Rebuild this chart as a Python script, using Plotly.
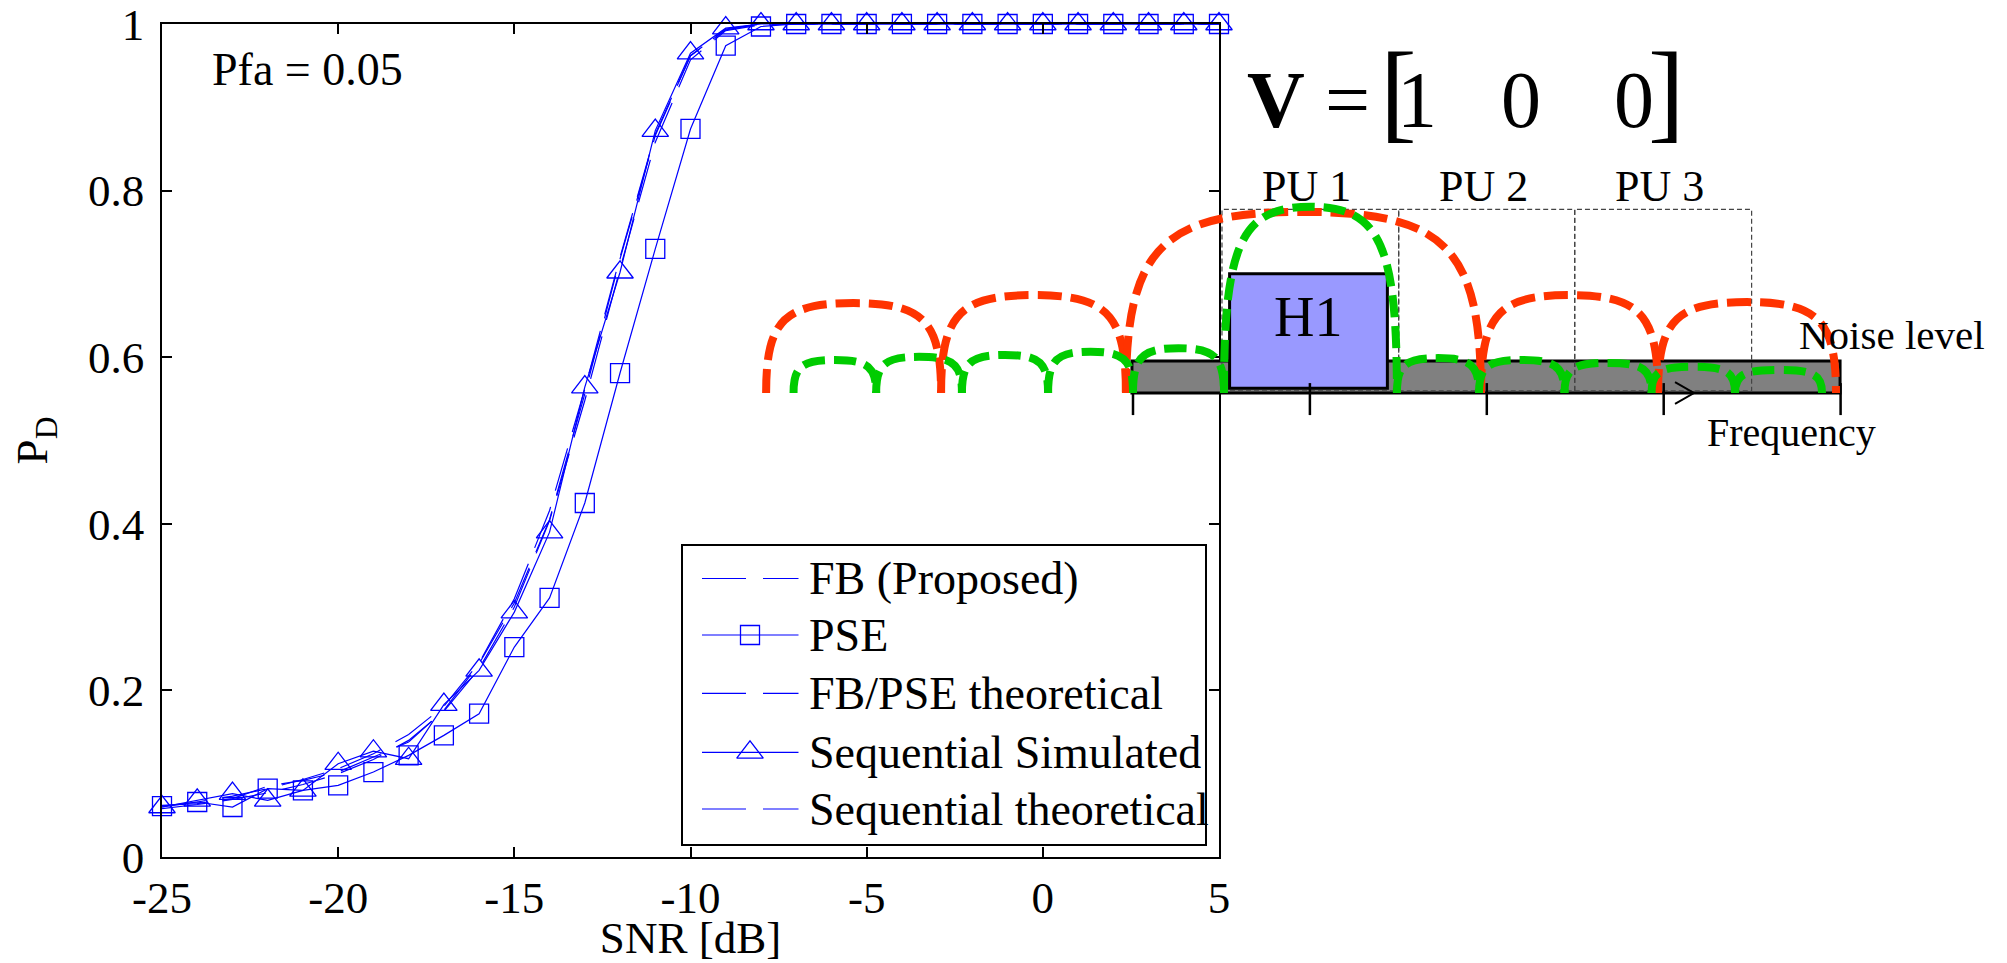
import plotly.graph_objects as go

W, H = 2007, 963
FONT = "Liberation Serif, Times New Roman, serif"

# ---------------- main chart data ----------------
snr_db = [-25, -24, -23, -22, -21, -20, -19, -18, -17, -16, -15, -14, -13, -12, -11, -10,
          -9, -8, -7, -6, -5, -4, -3, -2, -1, 0, 1, 2, 3, 4, 5]
pd_fb_proposed = [0.062, 0.064, 0.070, 0.085, 0.092, 0.102, 0.120, 0.138, 0.176, 0.232, 0.305,
                  0.405, 0.556, 0.718, 0.866, 0.962, 0.993, 1.0, 1.0, 1.0, 1.0, 1.0, 1.0, 1.0,
                  1.0, 1.0, 1.0, 1.0, 1.0, 1.0, 1.0]
pd_pse = [0.061, 0.066, 0.060, 0.082, 0.080, 0.086, 0.102, 0.122, 0.146, 0.172, 0.252,
          0.311, 0.425, 0.581, 0.730, 0.874, 0.974, 0.997, 1.0, 1.0, 1.0, 1.0, 1.0, 1.0,
          1.0, 1.0, 1.0, 1.0, 1.0, 1.0, 1.0]
pd_fbpse_theory = [0.058, 0.063, 0.069, 0.077, 0.087, 0.100, 0.117, 0.140, 0.175, 0.226, 0.300,
                   0.404, 0.548, 0.706, 0.858, 0.957, 0.992, 0.999, 1.0, 1.0, 1.0, 1.0, 1.0, 1.0,
                   1.0, 1.0, 1.0, 1.0, 1.0, 1.0, 1.0]
pd_seq_sim = [0.060, 0.068, 0.076, 0.068, 0.080, 0.112, 0.127, 0.118, 0.183, 0.224, 0.294,
              0.390, 0.564, 0.702, 0.872, 0.965, 0.995, 1.0, 1.0, 1.0, 1.0, 1.0, 1.0, 1.0,
              1.0, 1.0, 1.0, 1.0, 1.0, 1.0, 1.0]
pd_seq_theory = [0.060, 0.066, 0.073, 0.082, 0.093, 0.106, 0.124, 0.147, 0.181, 0.233, 0.310,
                 0.416, 0.562, 0.720, 0.868, 0.962, 0.994, 1.0, 1.0, 1.0, 1.0, 1.0, 1.0, 1.0,
                 1.0, 1.0, 1.0, 1.0, 1.0, 1.0, 1.0]

x_ticks = [-25, -20, -15, -10, -5, 0, 5]
x_tick_labels = ["-25", "-20", "-15", "-10", "-5", "0", "5"]
y_ticks = [0, 0.2, 0.4, 0.6, 0.8, 1.0]
y_tick_labels = ["0", "0.2", "0.4", "0.6", "0.8", "1"]

series_names = ["FB (Proposed)", "PSE", "FB/PSE theoretical",
                "Sequential Simulated", "Sequential theoretical"]
series_values = [pd_fb_proposed, pd_pse, pd_fbpse_theory, pd_seq_sim, pd_seq_theory]
pfa_text = "Pfa = 0.05"

# ---------------- inset diagram data ----------------
# frequency in PU-spacing units, level in noise-level units
red_lobe_start = [-2.074, -1.085, -0.040, 1.967, 2.968]
red_lobe_end = [-1.085, -0.040, 1.967, 2.968, 3.974]
red_lobe_peak = [2.81, 3.06, 5.66, 3.06, 2.84]
green_lobe_start = [-1.919, -1.452, -0.967, -0.480, 0.0, 0.514, 1.492, 1.956, 2.439, 2.931, 3.403]
green_lobe_end = [-1.452, -0.967, -0.480, 0.0, 0.514, 1.492, 1.956, 2.439, 2.931, 3.403, 3.895]
green_lobe_peak = [1.03, 1.13, 1.19, 1.29, 1.40, 5.82, 1.09, 1.03, 0.94, 0.82, 0.72]
pu_edges = [0.503, 1.502, 2.497, 3.497]
pu_labels = ["PU 1", "PU 2", "PU 3"]
pu_box_top = 5.74
pu_box_bottom = 0.07
noise_band = [-0.006, 3.997]
noise_level = 1.0
h1_band = [0.546, 1.438]
h1_range = [0.15, 3.73]
freq_ticks = [0, 1, 2, 3, 4]
v_entries = ["1", "0", "0"]

# ---------------- layout geometry (pixels) ----------------
PLOT_L, PLOT_R, PLOT_T, PLOT_B = 162, 1219, 24, 857
DIAG_F0_PX, DIAG_UNIT_PX, DIAG_BASE_PX, DIAG_LEVEL_PX = 1133, 176.9, 393, 32
LEG_BOX = (682, 545, 1206, 845)
LEG_ROWS = [578.5, 635, 693.3, 752.3, 809]
LEG_LINE = (702, 798.5)
LEG_MARK_X = 750
LEG_TEXT_X = 807
BLUE = "#0000ff"
DASH = "44px,17px"
RED = "#ff3300"
GREEN = "#00cc00"

styles = [
    dict(dash=DASH, symbol=None),
    dict(dash="solid", symbol="square-open"),
    dict(dash=DASH, symbol=None),
    dict(dash="solid", symbol="triangle-up-open"),
    dict(dash=DASH, symbol=None),
]
marker_sizes = {"square-open": 19, "triangle-up-open": 23}

fig = go.Figure()

for name, vals, st in zip(series_names, series_values, styles):
    mode = "lines+markers" if st["symbol"] else "lines"
    tr = dict(x=snr_db, y=vals, name=name, mode=mode,
              line=dict(color=BLUE, width=1.2, dash=st["dash"]),
              cliponaxis=False, xaxis="x", yaxis="y", showlegend=False)
    if st["symbol"]:
        tr["marker"] = dict(symbol=st["symbol"], size=marker_sizes[st["symbol"]],
                            color=BLUE, line=dict(color=BLUE, width=1.3))
    fig.add_trace(go.Scatter(**tr))

# custom MATLAB-like legend (pixel helper axes x3/y3)
for name, st, ry in zip(series_names, styles, LEG_ROWS):
    fig.add_trace(go.Scatter(x=list(LEG_LINE), y=[ry, ry], mode="lines",
                             line=dict(color=BLUE, width=1.2, dash=st["dash"]),
                             xaxis="x3", yaxis="y3", showlegend=False, hoverinfo="skip"))
    if st["symbol"]:
        fig.add_trace(go.Scatter(x=[LEG_MARK_X], y=[ry], mode="markers",
                                 marker=dict(symbol=st["symbol"], size=marker_sizes[st["symbol"]],
                                             color=BLUE, line=dict(color=BLUE, width=1.3)),
                                 xaxis="x3", yaxis="y3", showlegend=False, hoverinfo="skip"))

shapes = []
annotations = []

# legend box
shapes.append(dict(type="rect", xref="x3", yref="y3", x0=LEG_BOX[0], y0=LEG_BOX[1],
                   x1=LEG_BOX[2], y1=LEG_BOX[3], line=dict(color="black", width=2),
                   fillcolor="rgba(0,0,0,0)", layer="above"))
for name, ry in zip(series_names, LEG_ROWS):
    annotations.append(dict(xref="x3", yref="y3", x=LEG_TEXT_X, y=ry, text=name,
                            showarrow=False, xanchor="left", yanchor="middle",
                            font=dict(family=FONT, size=46, color="black")))

# Pfa annotation (main data coordinates)
annotations.append(dict(xref="x", yref="y", x=-20.87, y=0.945, text=pfa_text, showarrow=False,
                        xanchor="center", yanchor="middle",
                        font=dict(family=FONT, size=46, color="black")))

# ---------------- diagram shapes ----------------
def lobe_path(a, b, h, k=0.8):
    m = (a + b) / 2.0
    hw = (b - a) / 2.0
    return (f"M{a},0 C{a},{k*h} {m-k*hw},{h} {m},{h} "
            f"C{m+k*hw},{h} {b},{k*h} {b},0")

D = dict(xref="x2", yref="y2", layer="above")
shapes.append(dict(type="rect", x0=noise_band[0], x1=noise_band[1], y0=0, y1=noise_level,
                   fillcolor="#808080", line=dict(color="black", width=3), **D))
for i in range(len(pu_labels)):
    shapes.append(dict(type="rect", x0=pu_edges[i], x1=pu_edges[i + 1],
                       y0=pu_box_bottom, y1=pu_box_top, fillcolor="rgba(0,0,0,0)",
                       line=dict(color="#444444", width=1.2, dash="5px,3px"), **D))
shapes.append(dict(type="rect", x0=h1_band[0], x1=h1_band[1], y0=h1_range[0], y1=h1_range[1],
                   fillcolor="#9999ff", line=dict(color="black", width=3), **D))
for ft in freq_ticks:
    shapes.append(dict(type="line", x0=ft, x1=ft, y0=-0.69, y1=0.31,
                       line=dict(color="black", width=2.5), **D))
shapes.append(dict(type="path", path="M3.064,0.34 L3.171,0 L3.064,-0.34",
                   line=dict(color="black", width=2), **D))
for a, b, h in zip(red_lobe_start, red_lobe_end, red_lobe_peak):
    shapes.append(dict(type="path", path=lobe_path(a, b, h),
                       line=dict(color=RED, width=8, dash="24px,9px"), **D))
for a, b, h in zip(green_lobe_start, green_lobe_end, green_lobe_peak):
    shapes.append(dict(type="path", path=lobe_path(a, b, h),
                       line=dict(color=GREEN, width=8, dash="22px,9px"), **D))

# diagram text
for i, lab in enumerate(pu_labels):
    annotations.append(dict(xref="x2", yref="y2", x=(pu_edges[i] + pu_edges[i + 1]) / 2 - 0.02,
                            y=6.44, text=lab, showarrow=False,
                            font=dict(family=FONT, size=44, color="black")))
annotations.append(dict(xref="x2", yref="y2", x=(h1_band[0] + h1_band[1]) / 2, y=2.38,
                        text="H1", showarrow=False,
                        font=dict(family=FONT, size=56, color="black")))
annotations.append(dict(xref="x2", yref="y2", x=4.29, y=1.81, text="Noise level",
                        showarrow=False, font=dict(family=FONT, size=41, color="black")))
annotations.append(dict(xref="x2", yref="y2", x=3.72, y=-1.22, text="Frequency",
                        showarrow=False, font=dict(family=FONT, size=40, color="black")))
# V = [1 0 0]
v_parts = [("<b>V</b>", 0.808, 9.16, 80), ("=", 1.21, 9.16, 80), ("[", 1.498, 9.45, 110),
           (v_entries[0], 1.605, 9.16, 80), (v_entries[1], 2.193, 9.16, 80),
           (v_entries[2], 2.832, 9.16, 80), ("]", 3.013, 9.45, 110)]
for txt, xx, yy, fs in v_parts:
    annotations.append(dict(xref="x2", yref="y2", x=xx, y=yy, text=txt, showarrow=False,
                            xanchor="center", yanchor="middle",
                            font=dict(family=FONT, size=fs, color="black")))

axis_common = dict(showgrid=False, zeroline=False, showline=True, linecolor="black",
                   linewidth=1.5, ticks="inside", ticklen=10, tickwidth=1.5,
                   tickcolor="black", mirror="ticks", automargin=False,
                   ticklabeloverflow="allow",
                   tickfont=dict(family=FONT, size=45, color="black"))
hidden = dict(visible=False, fixedrange=True, automargin=False, showgrid=False, zeroline=False)

fig.update_layout(
    template="none",
    width=W, height=H, autosize=False,
    margin=dict(l=0, r=0, t=0, b=0, pad=0),
    paper_bgcolor="white", plot_bgcolor="rgba(0,0,0,0)",
    showlegend=False,
    xaxis=dict(domain=[PLOT_L / W, PLOT_R / W], range=[-25, 5], tickmode="array",
               tickvals=x_ticks, ticktext=x_tick_labels, anchor="y",
               ticklabelstandoff=0,
               title=dict(text="SNR [dB]", standoff=19,
                          font=dict(family=FONT, size=45, color="black")),
               **axis_common),
    yaxis=dict(domain=[1 - PLOT_B / H, 1 - PLOT_T / H], range=[0, 1], tickmode="array",
               tickvals=y_ticks, ticktext=y_tick_labels, anchor="x",
               ticklabelstandoff=7,
               title=dict(text="P<sub>D</sub>", standoff=26,
                          font=dict(family=FONT, size=45, color="black")),
               **axis_common),
    xaxis2=dict(domain=[0, 1], anchor="y2",
                range=[-DIAG_F0_PX / DIAG_UNIT_PX, (W - DIAG_F0_PX) / DIAG_UNIT_PX], **hidden),
    yaxis2=dict(domain=[0, 1], anchor="x2",
                range=[(DIAG_BASE_PX - H) / DIAG_LEVEL_PX, DIAG_BASE_PX / DIAG_LEVEL_PX], **hidden),
    xaxis3=dict(domain=[0, 1], anchor="y3", range=[0, W], **hidden),
    yaxis3=dict(domain=[0, 1], anchor="x3", range=[H, 0], **hidden),
    shapes=shapes,
    annotations=annotations,
)

fig.write_html("out.html", include_plotlyjs=True, config={"displayModeBar": False},
               post_script="document.body.style.margin='0px';document.body.style.overflow='hidden';")
